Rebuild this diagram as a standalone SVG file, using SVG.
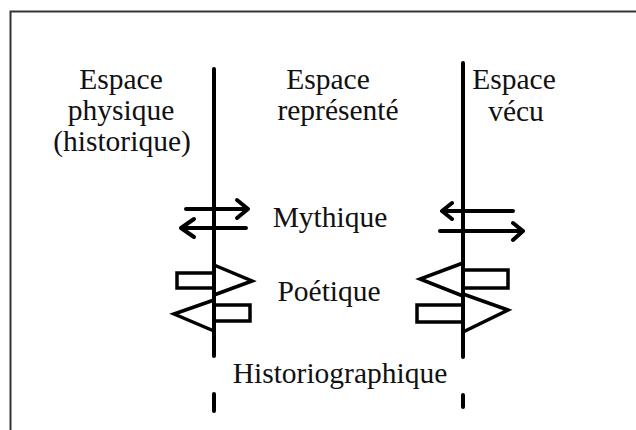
<svg xmlns="http://www.w3.org/2000/svg" width="636" height="430" viewBox="0 0 636 430">
<style>
.t{font-family:"Liberation Serif","Times New Roman",serif;font-size:29.5px;fill:#111;text-anchor:middle}
.ln{stroke:#000;stroke-width:4;fill:none;stroke-linecap:round;stroke-linejoin:round}
.sh{stroke:#000;stroke-width:3.5;fill:none;stroke-linejoin:miter}
</style>
<rect width="636" height="430" fill="#fff"/>
<path d="M10.5,430 V11.5 H636" stroke="#333" stroke-width="2" fill="none"/>
<g id="connectors">
<path class="ln" d="M214,69 V356 M214,394 V411"/>
<path class="ln" d="M463,63 V357 M463,395 V407"/>
</g>
<g id="col-physique">
<text class="t" x="121" y="89">Espace</text>
<text class="t" x="121" y="120">physique</text>
<text class="t" x="122" y="151">(historique)</text>
</g>
<g id="col-represente">
<text class="t" x="328" y="89">Espace</text>
<text class="t" x="338" y="120">représenté</text>
</g>
<g id="col-vecu">
<text class="t" x="514" y="89">Espace</text>
<text class="t" x="516" y="121">vécu</text>
</g>
<g id="mythique">
<text class="t" x="330" y="227">Mythique</text>
<path class="ln" d="M186,209 H248 M237,200 L248,209 L237,218"/>
<path class="ln" d="M181,228 H246 M194,219 L181,228 L194,237"/>
<path class="ln" d="M442,211 H513 M452,203 L442,211 L452,219"/>
<path class="ln" d="M440,231 H523 M513,223 L523,231 L513,240"/>
</g>
<g id="poetique">
<text class="t" x="329" y="301">Poétique</text>
<path class="sh" d="M214,265 L252,281 L214,295"/>
<rect class="sh" x="177" y="273" width="37" height="15"/>
<path class="sh" d="M214,300 L174,314 L214,331"/>
<rect class="sh" x="214" y="305" width="36" height="16"/>
<path class="sh" d="M463,263 L420,279 L463,296"/>
<rect class="sh" x="463" y="270" width="45" height="18"/>
<path class="sh" d="M463,294 L508,310 L463,332"/>
<rect class="sh" x="417" y="305" width="46" height="17"/>
</g>
<g id="historiographique">
<text class="t" x="340" y="383">Historiographique</text>
</g>
</svg>
